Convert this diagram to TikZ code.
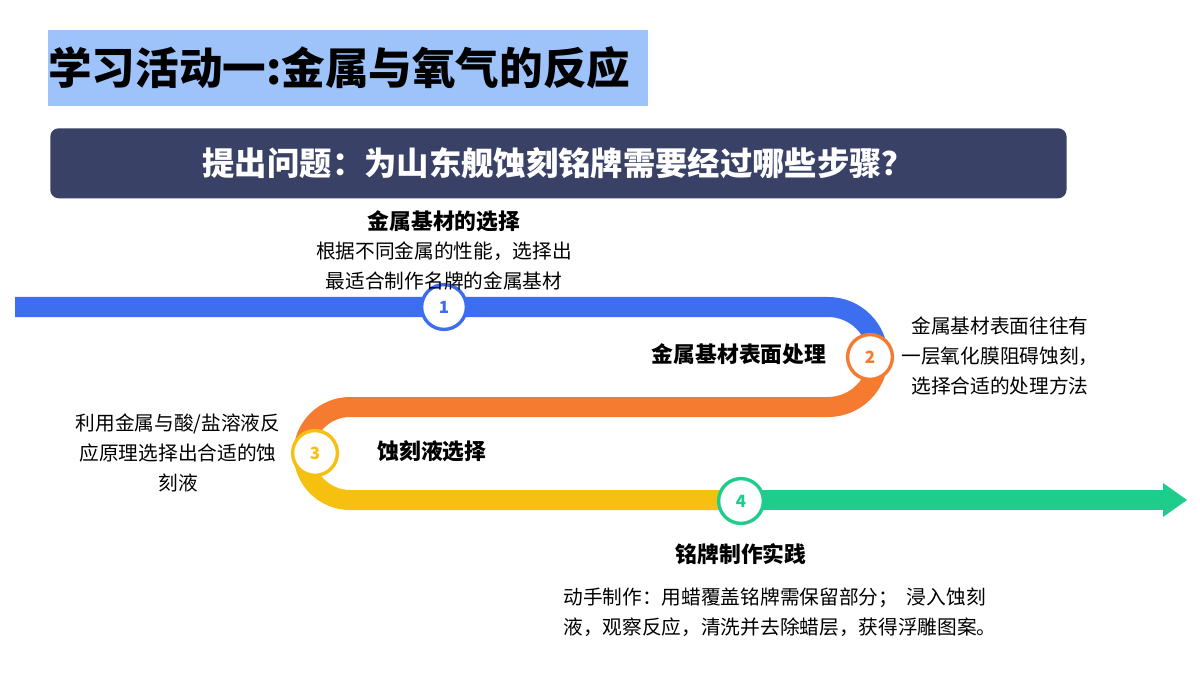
\documentclass[tikz,border=0pt]{standalone}
\usepackage{fontspec}
\setmainfont{Noto Sans CJK SC}
\usetikzlibrary{arrows.meta}
\definecolor{cblue}{HTML}{3D6EF0}
\definecolor{corange}{HTML}{F47B30}
\definecolor{cyellow}{HTML}{F5C010}
\definecolor{cgreen}{HTML}{1ECC8C}
\definecolor{navy}{HTML}{3A4166}
\definecolor{titlebg}{HTML}{9DC3FA}
\begin{document}
\begin{tikzpicture}[x=0.025cm,y=-0.025cm,
  track/.style={line width=0.5cm,line cap=butt},
  num/.style={circle,draw=#1,line width=2.4pt,fill=white,minimum size=1.12cm,inner sep=0pt,text=#1,font=\bfseries\fontsize{12}{14}\selectfont},
  head/.style={font=\bfseries\fontsize{15.5}{18}\selectfont,text=black},
  body/.style={font=\fontsize{14}{21.5}\selectfont,text=black,align=center}]
\useasboundingbox (0,0) rectangle (1200,675);
\fill[white] (0,0) rectangle (1200,675);
\node[fill=titlebg,minimum width=15cm,minimum height=1.9cm,anchor=north west,inner sep=0pt] (ttlbg) at (48,30) {};
\node[anchor=west,font=\bfseries\fontsize{31}{36}\selectfont,inner sep=0pt] (ttl) at (48,68) {学习活动一:金属与氧气的反应};
\node[fill=navy,rounded corners=6pt,minimum width=25.4cm,minimum height=1.75cm,anchor=north west,inner sep=0pt,text=white,font=\bfseries\fontsize{23}{26}\selectfont] (q) at (50,128) {提出问题：为山东舰蚀刻铭牌需要经过哪些步骤？};
% track
\draw[track,cblue] (15,307) -- (828,307) arc[start angle=-90,end angle=0,radius=50];
\draw[track,corange] (878,357) arc[start angle=0,end angle=90,radius=50] -- (350,407) arc[start angle=270,end angle=180,radius=46.5];
\draw[track,cyellow] (303.5,453.5) arc[start angle=180,end angle=90,radius=46.5] -- (745,500);
\draw[track,cgreen] (740,500) -- (1165,500);
\fill[cgreen] (1163,483) -- (1187,500) -- (1163,517) -- cycle;
\node[num=cblue] (n1) at (444,307) {1};
\node[num=corange] (n2) at (870,357) {2};
\node[num=cyellow] (n3) at (315,453) {3};
\node[num=cgreen] (n4) at (741,501) {4};
\node[head] (h1) at (444,221) {金属基材的选择};
\node[body] (b1) at (444,266) {根据不同金属的性能，选择出\\最适合制作名牌的金属基材};
\node[head] (h2) at (739,354) {金属基材表面处理};
\node[body] (b2) at (1000,356) {金属基材表面往往有\\一层氧化膜阻碍蚀刻，\\选择合适的处理方法};
\node[body] (b3) at (178,453) {利用金属与酸/盐溶液反\\应原理选择出合适的蚀\\刻液};
\node[head] (h3) at (432,451) {蚀刻液选择};
\node[head] (h4) at (741,554) {铭牌制作实践};
\node[body,align=left] (b4) at (780,612) {动手制作：用蜡覆盖铭牌需保留部分；\ \ 浸入蚀刻\\液，观察反应，清洗并去除蜡层，获得浮雕图案。};
\end{tikzpicture}
\end{document}
